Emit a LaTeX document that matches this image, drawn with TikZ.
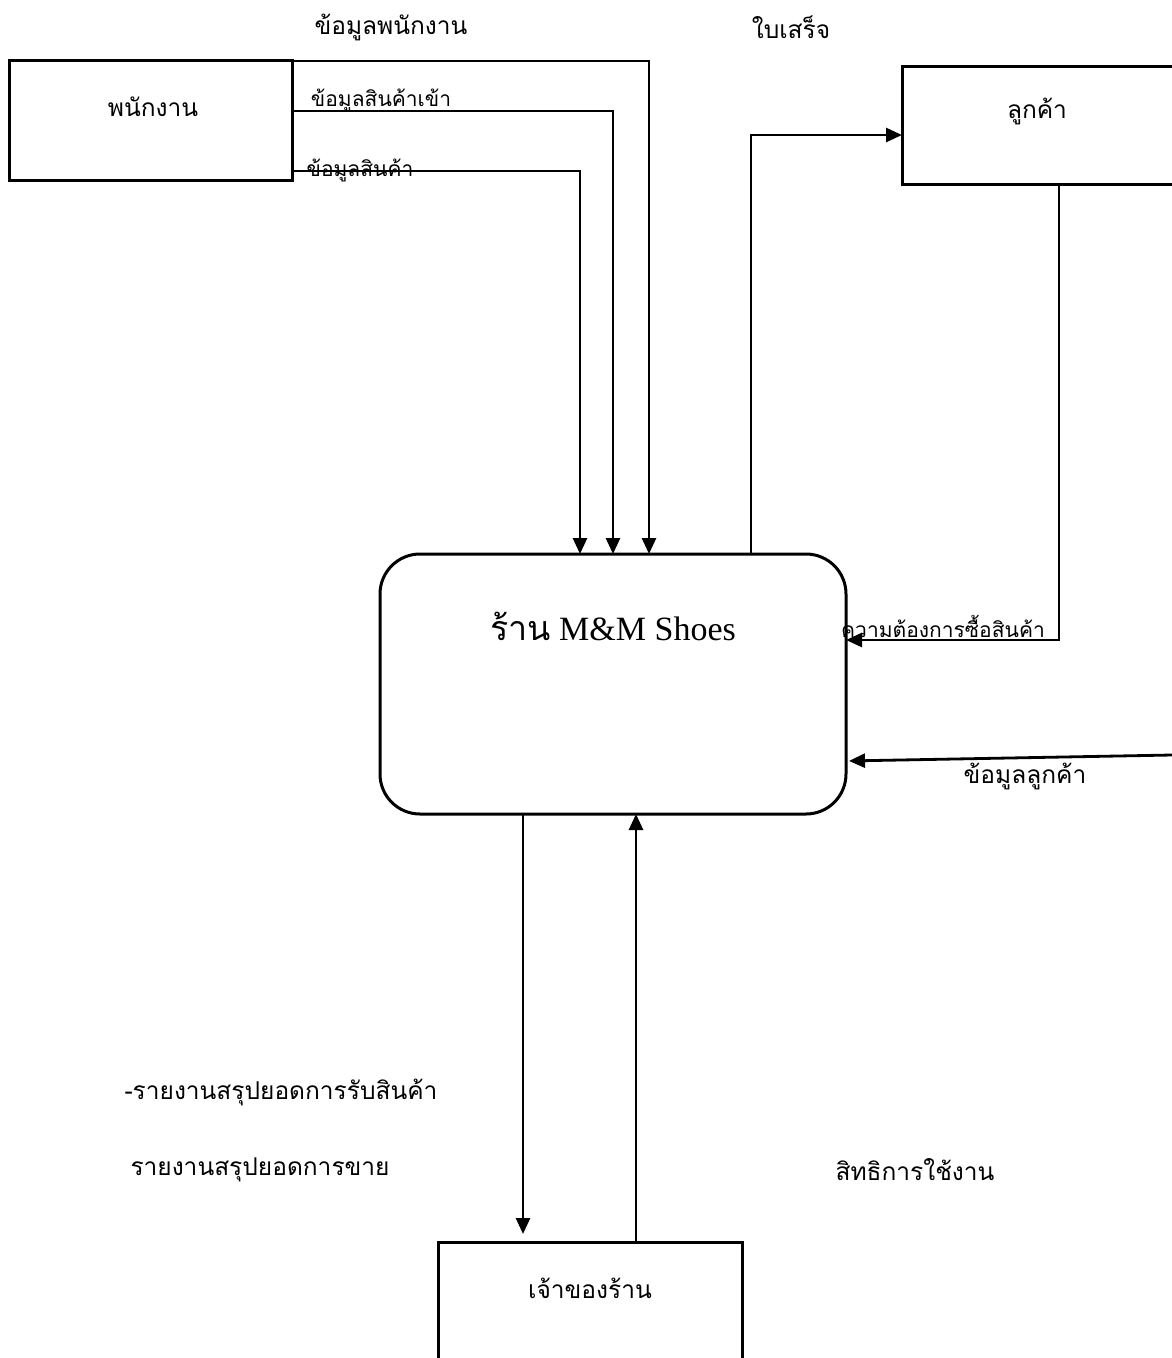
\documentclass[tikz,border=0pt]{standalone}
\usepackage{fontspec}
\setmainfont{Liberation Serif}
\newfontfamily\thai[Script=Thai]{Loma}
\usetikzlibrary{arrows.meta}
\begin{document}
\begin{tikzpicture}[x=1pt,y=-1pt,
  box/.style={draw, line width=3pt, inner sep=0pt, outer sep=0pt},
  flow/.style={line width=2.8pt, -{Triangle[length=16pt,width=14pt]}},
  lbl/.style={font=\thai\fontsize{24.5}{28}\selectfont, inner sep=0pt},
  slbl/.style={font=\thai\fontsize{21}{25}\selectfont, inner sep=0pt}]
\useasboundingbox (0,0) rectangle (1172,1358);
\fill[white] (0,0) rectangle (1172,1358);
\begin{scope}
\clip (0,0) rectangle (1172,1358);
% boxes
\node[box, minimum width=283pt, minimum height=120pt] (emp) at (150.5,120) {};
\node[box, minimum width=276pt, minimum height=118pt] (cust) at (1040,125) {};
\node[box, rounded corners=40pt, minimum width=466pt, minimum height=260pt] (main) at (613,684) {};
\node[box, minimum width=304pt, minimum height=130pt] (own) at (590,1307) {};
% box texts
\node[lbl] (tEmp) at (153,107) {พนักงาน};
\node[lbl] (tCust) at (1037,111) {ลูกค้า};
\node[lbl] (tOwn) at (590,1288) {เจ้าของร้าน};
\node[inner sep=0pt, font=\fontsize{34}{40}\selectfont] (tMain) at (613,626) {{\thai ร้าน} M\&M Shoes};
% connector helper coordinates
\coordinate (k1) at (649,61);
\coordinate (k2) at (613,111);
\coordinate (k3) at (580,171);
\coordinate (r1) at (751,135);
\coordinate (d1) at (1059,640);
\coordinate (e1) at (1172,755);
\coordinate (e2) at (849,761);
\coordinate (o1) at (523,0);
\coordinate (o2) at (636,0);
% connectors
\draw[flow] (emp.east |- k1) -- (k1) -- (k1 |- main.north);
\draw[flow] (emp.east |- k2) -- (k2) -- (k2 |- main.north);
\draw[flow] (emp.east |- k3) -- (k3) -- (k3 |- main.north);
\draw[flow] (r1 |- main.north) -- (r1) -- (cust.west |- r1);
\draw[flow] (d1 |- cust.south) -- (d1) -- (main.east |- d1);
\draw[flow, shorten >=3pt] (e1) -- (main.east |- e2);
\draw[flow, shorten >=8pt] (main.south -| o1) -- (own.north -| o1);
\draw[flow] (own.north -| o2) -- (main.south -| o2);
% connector labels
\node[lbl] (l1) at (391,27) {ข้อมูลพนักงาน};
\node[slbl] (l2) at (381,100) {ข้อมูลสินค้าเข้า};
\node[slbl] (l3) at (360,170) {ข้อมูลสินค้า};
\node[lbl] (l4) at (791,27) {ใบเสร็จ};
\node[slbl] (l5) at (943,626) {ความต้องการซื้อสินค้า};
\node[lbl] (l6) at (1025,776) {ข้อมูลลูกค้า};
\node[lbl] (l7) at (281,1092) {-รายงานสรุปยอดการรับสินค้า};
\node[lbl] (l8) at (260,1170) {รายงานสรุปยอดการขาย};
\node[lbl] (l9) at (915,1170) {สิทธิการใช้งาน};
\end{scope}
\end{tikzpicture}
\end{document}
